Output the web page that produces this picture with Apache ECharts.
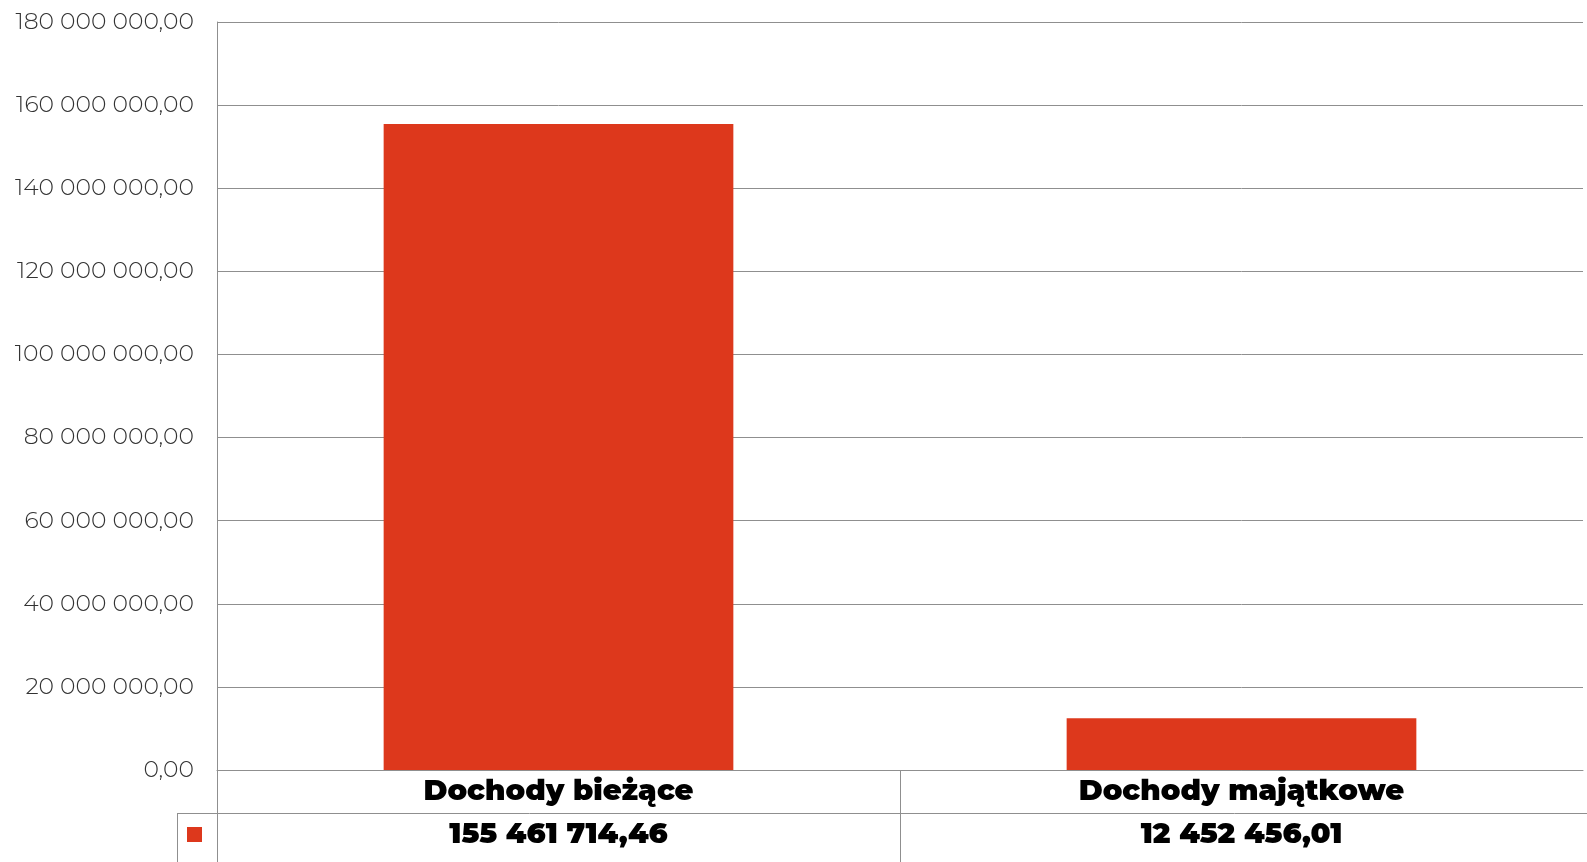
<!DOCTYPE html>
<html>
<head>
<meta charset="utf-8">
<script src="https://cdn.jsdelivr.net/npm/echarts@6/dist/echarts.min.js"></script>
<style>html,body{margin:0;padding:0;background:#fff}#c{width:1587px;height:862px}</style>
</head>
<body>
<div id="c"></div>
<script>
const categories = ['Dochody bieżące', 'Dochody majątkowe'];
const values = [155461714.46, 12452456.01];
const yTicks = [0, 20000000, 40000000, 60000000, 80000000, 100000000, 120000000, 140000000, 160000000, 180000000];

function fmt(v) {
  const parts = v.toFixed(2).split('.');
  const intPart = parts[0].replace(/\B(?=(\d{3})+(?!\d))/g, ' ');
  return intPart + ',' + parts[1];
}

const RED = '#DD381C';
const LINE = '#8f8f8f';
const FONT = 'Montserrat, Inter, sans-serif';
const chart = echarts.init(document.getElementById('c'));
const gridLeft = 217, gridTop = 22, gridBottomY = 770, gridRight = 4;

chart.setOption({
  animation: false,
  grid: { left: gridLeft, top: gridTop, right: gridRight, bottom: 862 - gridBottomY, containLabel: false },
  xAxis: {
    type: 'category',
    data: categories,
    axisLine: { show: true, lineStyle: { color: LINE, width: 1 } },
    axisTick: { show: false },
    axisLabel: {
      margin: 0,
      interval: 0,
      formatter: function (name, idx) {
        return '{a|' + name + '}\n{b|' + fmt(values[idx]) + '}';
      },
      rich: {
        a: { fontFamily: FONT, fontWeight: 900, fontSize: 29, color: '#000', lineHeight: 43, align: 'center' },
        b: { fontFamily: FONT, fontWeight: 900, fontSize: 29, color: '#000', lineHeight: 43, align: 'center' }
      }
    }
  },
  yAxis: {
    type: 'value',
    min: yTicks[0],
    max: yTicks[yTicks.length - 1],
    interval: yTicks[1] - yTicks[0],
    axisLine: { show: true, lineStyle: { color: LINE, width: 1 } },
    axisTick: { show: false },
    splitLine: { show: true, lineStyle: { color: LINE, width: 1 } },
    axisLabel: {
      margin: 23,
      color: '#333',
      fontFamily: FONT,
      fontWeight: 300,
      fontSize: 23.5,
      formatter: function (v) { return fmt(v); }
    }
  },
  series: [{
    type: 'bar',
    data: values,
    barWidth: '51.2%',
    itemStyle: { color: RED },
    silent: true
  }]
});

// table separators derived from the category axis
const c0 = chart.convertToPixel({ xAxisIndex: 0 }, 0);
const c1 = chart.convertToPixel({ xAxisIndex: 0 }, 1);
const sep = Math.round((c0 + c1) / 2) + 0.5;
const leftX = Math.round(2 * c0 - (c0 + c1) / 2) + 0.5;
chart.setOption({
  graphic: [
    { type: 'line', shape: { x1: leftX, y1: gridBottomY, x2: leftX, y2: 862 }, style: { stroke: LINE, lineWidth: 1 } },
    { type: 'line', shape: { x1: sep, y1: gridBottomY, x2: sep, y2: 862 }, style: { stroke: LINE, lineWidth: 1 } },
    { type: 'line', shape: { x1: 177, y1: 813.5, x2: 1587, y2: 813.5 }, style: { stroke: LINE, lineWidth: 1 } },
    { type: 'line', shape: { x1: 177.5, y1: 813, x2: 177.5, y2: 862 }, style: { stroke: LINE, lineWidth: 1 } },
    { type: 'rect', shape: { x: 187, y: 827, width: 15, height: 15 }, style: { fill: RED } }
  ]
});
</script>
</body>
</html>
